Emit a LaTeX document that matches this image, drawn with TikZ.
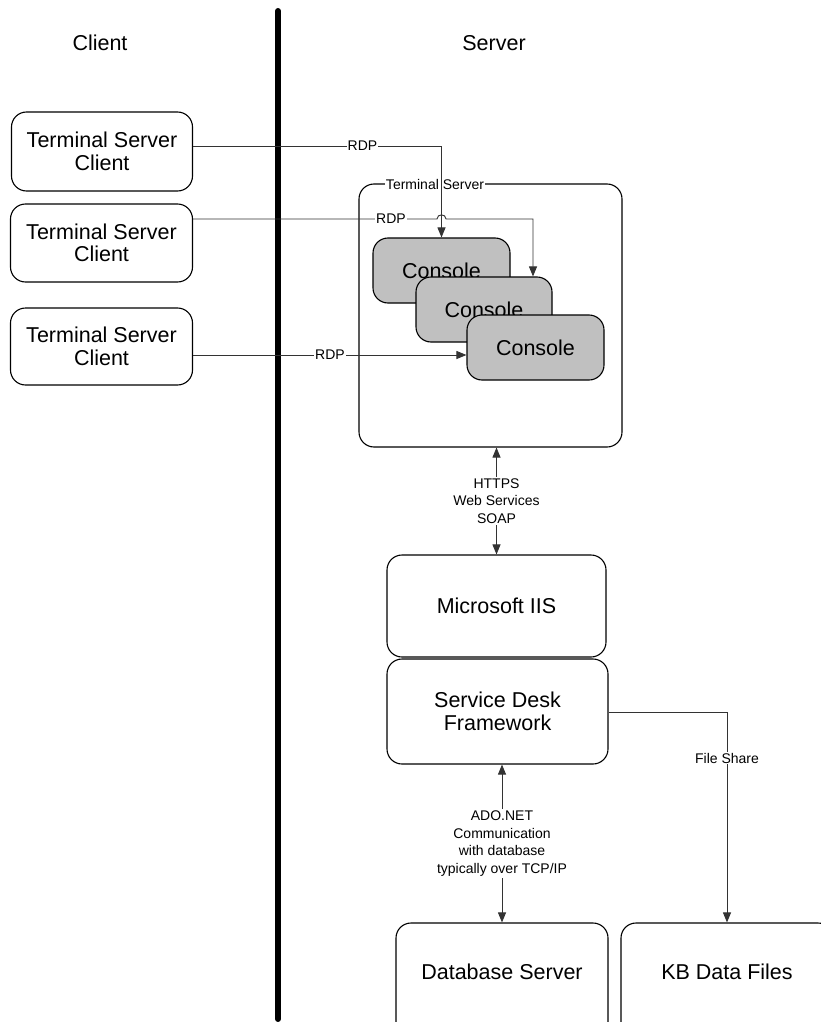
\documentclass[tikz,border=0pt]{standalone}
\usepackage{fontspec}
\setmainfont{Liberation Sans}
\usetikzlibrary{arrows.meta}
\definecolor{consolegray}{HTML}{C0C0C0}
\definecolor{lineclr}{HTML}{333333}
\begin{document}
\begin{tikzpicture}[x=1pt,y=-1pt,
  >={Triangle[length=10pt,width=8pt]},
  big/.style={font=\fontsize{21.5}{22.5}\selectfont, align=center, inner sep=0pt},
  small/.style={font=\fontsize{14}{17.5}\selectfont, align=center, inner sep=1pt, fill=white},
  box/.style={draw=black, line width=1.1pt, rounded corners=15pt, inner sep=0pt, fill=white, big},
  consolebox/.style={box, fill=consolegray},
  conn/.style={draw=lineclr, line width=0.9pt},
]
\useasboundingbox (0,0) rectangle (821,1022);
\clip (0,0) rectangle (821,1022);

% headings and divider
\node[big] (client) at (100,43) {Client};
\node[big] (server) at (494,43) {Server};
\coordinate (divtop) at (278,11);
\coordinate (divbot) at (278,1019);
\draw[line width=6pt, line cap=round] (divtop) -- (divbot);

% terminal server clients
\node[box, minimum width=181pt, minimum height=79pt] (t1) at (102,151.5) {Terminal Server\\Client};
\node[box, minimum width=182pt, minimum height=78pt] (t2) at (101.5,243) {Terminal Server\\Client};
\node[box, minimum width=182pt, minimum height=77pt] (t3) at (101.5,346.5) {Terminal Server\\Client};

% terminal server container
\node[box, minimum width=263pt, minimum height=263pt] (ts) at (490.5,315.5) {};
\node[small] (tsl) at (435,184) {Terminal Server};

% consoles
\node[consolebox, minimum width=137pt, minimum height=65pt] (c1) at (441.5,270.5) {Console};
\node[consolebox, minimum width=136pt, minimum height=65pt] (c2) at (484,309.5) {Console};
\node[consolebox, minimum width=137pt, minimum height=65pt] (c3) at (535.5,347.5) {Console};

% RDP connectors
\coordinate (k1) at (441.5,146);
\coordinate (k2) at (533,219);
\draw[conn,->] (t1.east |- k1) -- (k1) -- (c1.north);
\node[small] (r1) at (362.5,146) {RDP};
\draw[conn,->] (t2.east |- k2) -- (437,219) .. controls (437,213.5) and (446,213.5) .. (446,219) -- (k2) -- (k2 |- c2.north);
\node[small] (r2) at (391,219) {RDP};
\coordinate (k3) at (300,355);
\draw[conn,->] (t3.east |- k3) -- (c3.west |- k3);
\node[small] (r3) at (330,355) {RDP};

% IIS and framework
\node[box, minimum width=219pt, minimum height=102pt] (iis) at (496.5,606) {Microsoft IIS};
\node[box, minimum width=221pt, minimum height=105pt] (sdf) at (497.5,711.5) {Service Desk\\Framework};
\draw[conn,<->] (iis.north |- ts.south) -- node[small, inner sep=2pt] (https) {HTTPS\\Web Services\\SOAP} (iis.north);

% bottom boxes
\node[box, minimum width=212pt, minimum height=140pt] (db) at (502,993) {};
\node[big] (dbt) at (502,972) {Database Server};
\node[box, minimum width=212pt, minimum height=140pt] (kb) at (727,993) {};
\node[big] (kbt) at (727,972) {KB Data Files};

\coordinate (k4) at (700,712);
\draw[conn,<->] (db.north |- sdf.south) -- node[small, inner sep=1.5pt] (ado) {ADO.NET\\Communication\\with database\\typically over TCP/IP} (db.north);
\draw[conn,->] (sdf.east |- k4) -| (kb.north);
\node[small] (fs) at (727,758) {File Share};
\end{tikzpicture}
\end{document}
